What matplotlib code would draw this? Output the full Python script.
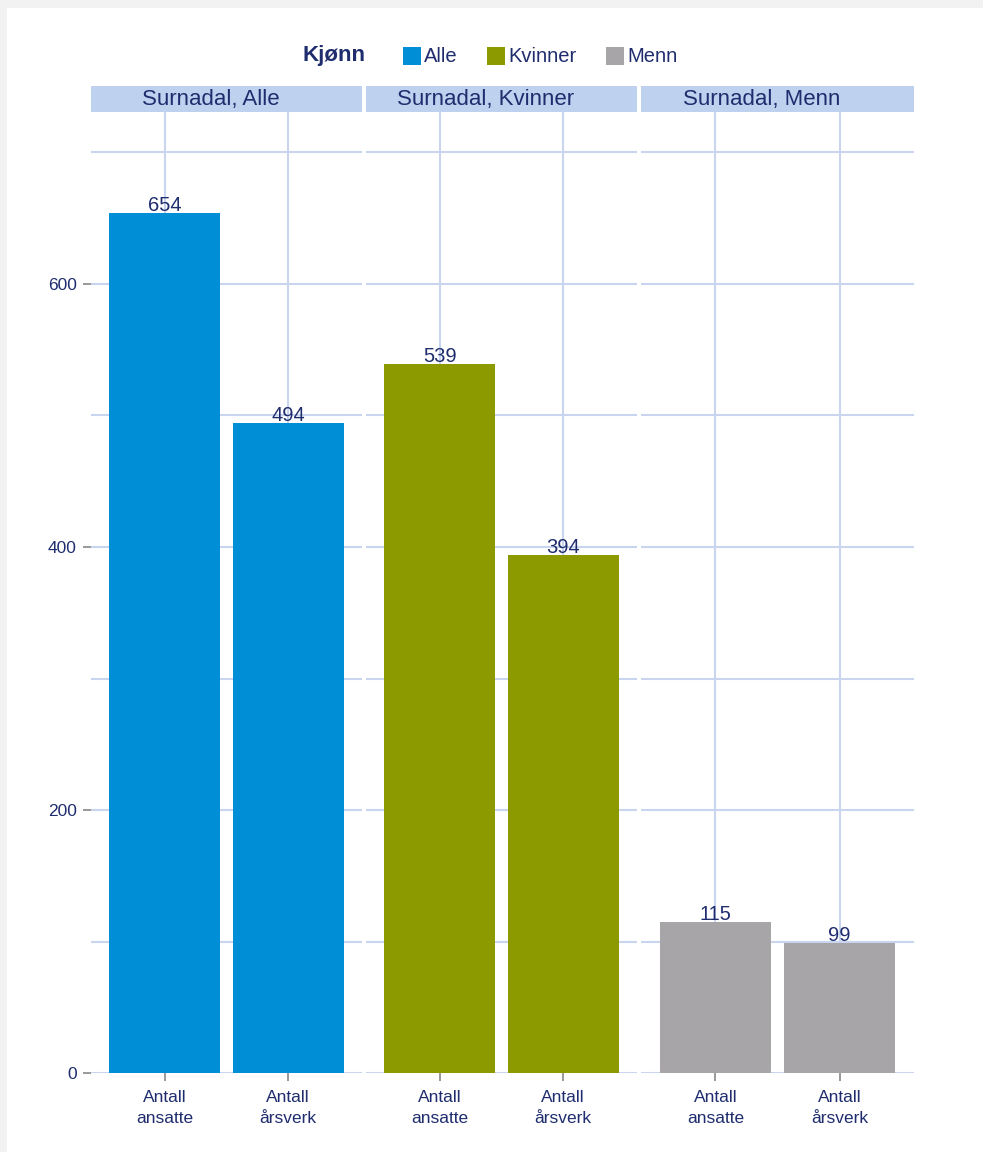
import matplotlib.pyplot as plt
from matplotlib.patches import Rectangle

plt.rcParams['font.family'] = ['Liberation Sans', 'DejaVu Sans']

panels = ["Surnadal, Alle", "Surnadal, Kvinner", "Surnadal, Menn"]
groups = ["Alle", "Kvinner", "Menn"]
categories = ["Antall\nansatte", "Antall\nårsverk"]
alle = [654, 494]
kvinner = [539, 394]
menn = [115, 99]
values = [alle, kvinner, menn]
colors = ["#008ed6", "#8c9a00", "#a7a5a7"]

navy = "#1f2d6e"
grid_col = "#c9d5ee"
strip_col = "#bed2ef"

W, H = 983, 1152
fig = plt.figure(figsize=(W / 100, H / 100), dpi=100)
fig.patch.set_facecolor("white")

# grey frame at top/left
fig.patches.append(Rectangle((0, 1 - 8 / H), 1, 8 / H, transform=fig.transFigure,
                             facecolor="#f2f2f2", edgecolor="none", zorder=0))
fig.patches.append(Rectangle((0, 0), 7 / W, 1, transform=fig.transFigure,
                             facecolor="#f2f2f2", edgecolor="none", zorder=0))


def px_axes(x0, x1, y0, y1):
    return fig.add_axes([x0 / W, 1 - y1 / H, (x1 - x0) / W, (y1 - y0) / H])


lefts = [91, 366, 641]
rights = [362, 637, 914]
top, bottom = 112, 1073
ymax = (bottom - top) / 263 * 200

for i in range(3):
    ax = px_axes(lefts[i], rights[i], top, bottom)
    x = [1, 2]
    ax.bar(x, values[i], width=0.9, color=colors[i], zorder=3)
    for xi, v in zip(x, values[i]):
        ax.text(xi, v - 1.5, str(v), ha="center", va="bottom", fontsize=14.5, color=navy, zorder=4)
    ax.set_xlim(0.4, 2.6)
    ax.set_ylim(0, ymax)
    ax.set_xticks(x)
    ax.set_xticklabels(categories, fontsize=12.5, color=navy, linespacing=1.5)
    ax.set_yticks([0, 200, 400, 600])
    ax.set_yticks([100, 300, 500, 700], minor=True)
    if i == 0:
        ax.set_yticklabels(["0", "200", "400", "600"], fontsize=12.5, color=navy)
        ax.tick_params(axis="y", which="major", length=6, color="#888888", width=1.2, pad=4.3)
    else:
        ax.tick_params(axis="y", which="major", length=0, labelleft=False)
    ax.tick_params(axis="y", which="minor", length=0)
    ax.tick_params(axis="x", length=6, color="#888888", width=1.2, pad=6)
    ax.grid(True, which="both", axis="y", color=grid_col, linewidth=1.5, zorder=0)
    ax.grid(True, axis="x", color=grid_col, linewidth=1.5, zorder=0)
    ax.set_axisbelow(True)
    for s in ax.spines.values():
        s.set_visible(False)
    ax.set_facecolor("white")

    # strip
    fig.patches.append(Rectangle((lefts[i] / W, 1 - top / H), (rights[i] - lefts[i]) / W, 26 / H,
                                 transform=fig.transFigure, facecolor=strip_col, edgecolor="none"))
    fig.text(((lefts[i] + rights[i]) / 2 - 16) / W, 1 - 99 / H, panels[i], ha="center",
             va="center", fontsize=16, color=navy)

# legend
fig.text(302 / W, 1 - 56 / H, "Kjønn", ha="left", va="center", fontsize=16,
         fontweight="bold", color=navy)
sw_x = [403, 487, 606]
for gx, g, c in zip(sw_x, groups, colors):
    fig.patches.append(Rectangle((gx / W, 1 - 65 / H), 18 / W, 18 / H, transform=fig.transFigure,
                                 facecolor=c, edgecolor="none"))
    fig.text((gx + 21) / W, 1 - 56 / H, g, ha="left", va="center", fontsize=14.5, color=navy)

fig.savefig("out.png", dpi=100)
